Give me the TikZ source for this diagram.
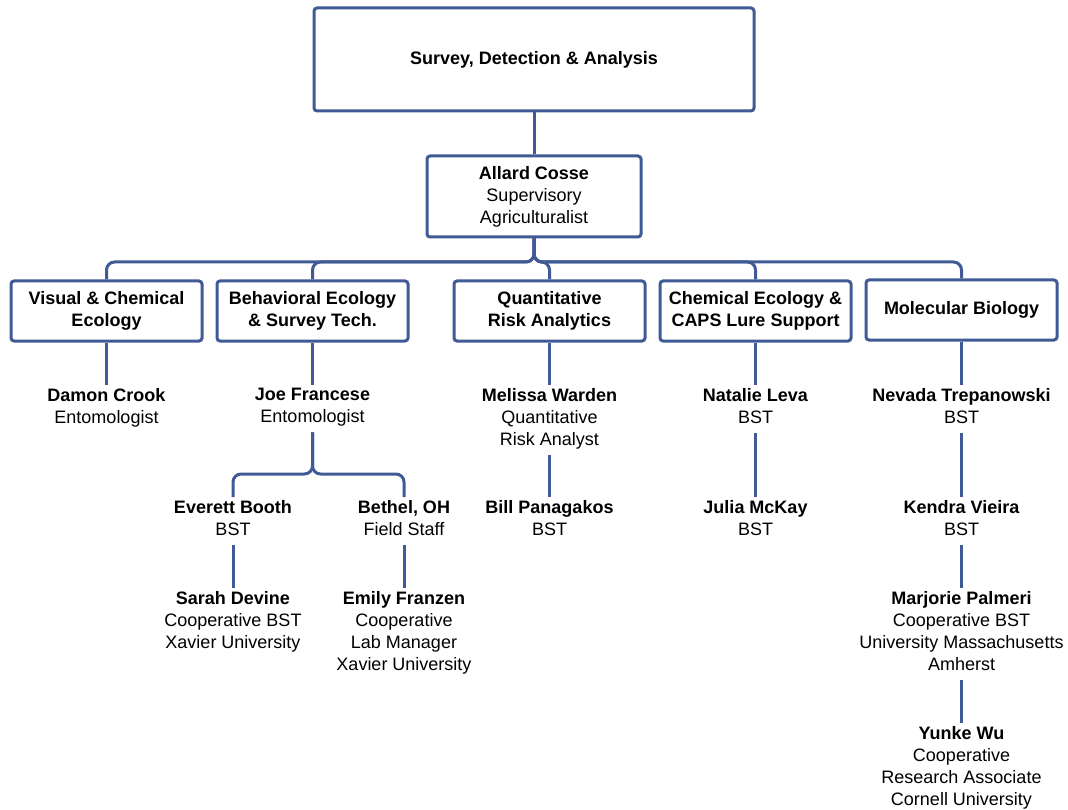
\documentclass[tikz,border=0pt]{standalone}
\usepackage{fontspec}
\setmainfont{Liberation Sans}
\usepackage{tikz}
\usetikzlibrary{positioning}
\definecolor{orgblue}{RGB}{63,90,148}
\tikzstyle{unit} = [rectangle, rounded corners=3pt, draw=orgblue, line width=3pt, fill=white, align=center, font=\fontsize{18}{22}\selectfont\bfseries]
\tikzstyle{person} = [align=center, inner sep=3pt, anchor=north, execute at begin node=\strut, font=\fontsize{18}{22}\selectfont]
\tikzstyle{line} = [draw=orgblue, line width=3pt, rounded corners=8pt]

\begin{document}
\begin{tikzpicture}[x=1pt, y=-1pt]
\useasboundingbox (0,0) rectangle (1068,810);

\node (top) [unit, minimum width=440pt, minimum height=103pt] at (534,59.5) {Survey, Detection \& Analysis};
\node (allard) [unit, minimum width=214pt, minimum height=81pt, font=\fontsize{18}{22}\selectfont] at (534,196.5) {\textbf{Allard Cosse}\\Supervisory\\Agriculturalist};

\node (visual) [unit, minimum width=191pt, minimum height=60pt] at (106.5,311) {Visual \& Chemical\\Ecology};
\node (behav) [unit, minimum width=191pt, minimum height=60pt] at (312.5,311) {Behavioral Ecology\\\& Survey Tech.};
\node (quant) [unit, minimum width=191pt, minimum height=60pt] at (549.5,311) {Quantitative\\Risk Analytics};
\node (chem) [unit, minimum width=191pt, minimum height=60pt] at (755.5,311) {Chemical Ecology \&\\CAPS Lure Support};
\node (molec) [unit, minimum width=191pt, minimum height=60pt] at (961.5,310) {Molecular Biology};

\node (damon) [person] at (106.5,385) {\textbf{Damon Crook}\\Entomologist};
\node (joe) [person] at (312.5,385) {\textbf{Joe Francese}\\Entomologist};
\node (melissa) [person] at (549.5,385) {\textbf{Melissa Warden}\\Quantitative\\Risk Analyst};
\node (natalie) [person] at (755.5,385) {\textbf{Natalie Leva}\\BST};
\node (nevada) [person] at (961.5,385) {\textbf{Nevada Trepanowski}\\BST};

\node (everett) [person] at (233,497) {\textbf{Everett Booth}\\BST};
\node (bethel) [person] at (404,497) {\textbf{Bethel, OH}\\Field Staff};
\node (bill) [person] at (549.5,497) {\textbf{Bill Panagakos}\\BST};
\node (julia) [person] at (755.5,497) {\textbf{Julia McKay}\\BST};
\node (kendra) [person] at (961.5,497) {\textbf{Kendra Vieira}\\BST};

\node (sarah) [person] at (233,588) {\textbf{Sarah Devine}\\Cooperative BST\\Xavier University};
\node (emily) [person] at (404,588) {\textbf{Emily Franzen}\\Cooperative\\Lab Manager\\Xavier University};
\node (marjorie) [person] at (961.5,588) {\textbf{Marjorie Palmeri}\\Cooperative BST\\University Massachusetts\\Amherst};
\node (yunke) [person] at (961.5,723) {\textbf{Yunke Wu}\\Cooperative\\Research Associate\\Cornell University};

\coordinate (bus) at (534,262);
\coordinate (jsplit) at (312.5,474);

\draw [line] (top) -- (allard);
\foreach \u in {visual, behav, quant, chem, molec}
  \draw [line] (allard.south) -- (bus) -| (\u.north);

\draw [line] (visual) -- (damon);
\draw [line] (behav) -- (joe);
\draw [line] (quant) -- (melissa);
\draw [line] (chem) -- (natalie);
\draw [line] (molec) -- (nevada);

\draw [line] (joe.south) -- (jsplit) -| (everett.north);
\draw [line] (joe.south) -- (jsplit) -| (bethel.north);
\draw [line] (melissa) -- (bill);
\draw [line] (natalie) -- (julia);
\draw [line] (nevada) -- (kendra);

\draw [line] (everett) -- (sarah);
\draw [line] (bethel) -- (emily);
\draw [line] (kendra) -- (marjorie);
\draw [line] (marjorie) -- (yunke);

\end{tikzpicture}
\end{document}
